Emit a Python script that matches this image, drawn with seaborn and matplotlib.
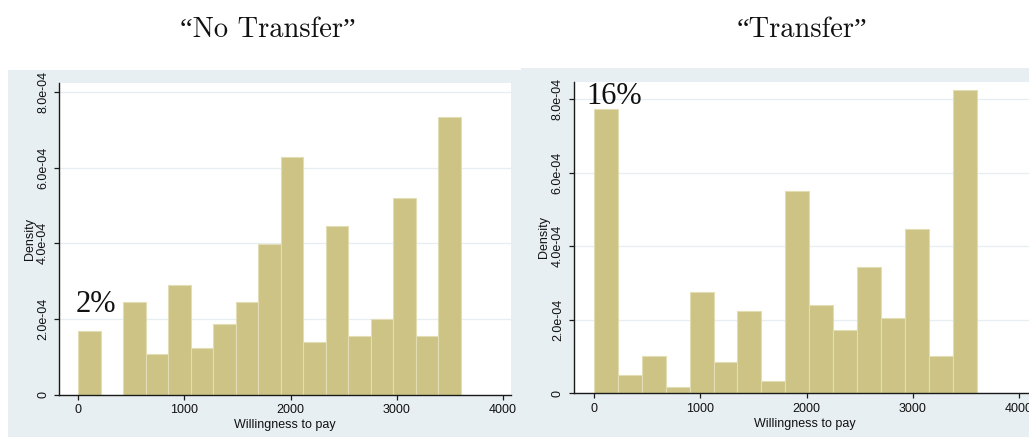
import numpy as np
import pandas as pd
import seaborn as sns
import matplotlib
matplotlib.use("Agg")
import matplotlib.pyplot as plt
from matplotlib.patches import Rectangle

# Histogram densities of willingness to pay (bins span 0..3600)
no_transfer_density = [1.683e-4, 0.0, 2.458e-4, 1.084e-4, 2.907e-4, 1.233e-4,
                       1.859e-4, 2.458e-4, 3.982e-4, 6.273e-4, 1.383e-4, 4.449e-4,
                       1.542e-4, 2.000e-4, 5.207e-4, 1.542e-4, 7.339e-4]
transfer_density = [7.737e-4, 0.498e-4, 1.024e-4, 0.163e-4, 2.745e-4, 0.843e-4,
                    2.229e-4, 0.326e-4, 5.490e-4, 2.392e-4, 1.712e-4, 3.425e-4,
                    2.057e-4, 4.457e-4, 1.024e-4, 8.254e-4]
wtp_min, wtp_max = 0, 3600

panel_titles = ["\u201cNo Transfer\u201d", "\u201cTransfer\u201d"]
zero_share_labels = ["2%", "16%"]

x_ticks = [0, 1000, 2000, 3000, 4000]
x_tick_labels = ["0", "1000", "2000", "3000", "4000"]
y_ticks = [0, 2e-4, 4e-4, 6e-4, 8e-4]
y_tick_labels = ["0", "2.0e-04", "4.0e-04", "6.0e-04", "8.0e-04"]

sns.set_theme(style="white")
plt.rcParams["font.family"] = ["Liberation Sans", "DejaVu Sans"]

W, H = 1029, 437
fig = plt.figure(figsize=(W / 100, H / 100), dpi=100)

BG = "#e8eff2"
BAR = "#ccc385"
EDGE = "#e2ddb4"
GRID = "#e6eef1"


def px_rect(x0, y0, x1, y1):
    """Figure-fraction rectangle from pixel box (origin top-left)."""
    return [x0 / W, 1 - y1 / H, (x1 - x0) / W, (y1 - y0) / H]


# graph-region backgrounds, kept beneath the axes
for (x0, y0, x1, y1) in [(8, 70, 521, 436.5), (521, 68, 1040, 436.5)]:
    l, b, w, h = px_rect(x0, y0, x1, y1)
    fig.patches.append(Rectangle((l, b), w, h, transform=fig.transFigure,
                                 facecolor=BG, edgecolor="none", zorder=-5))

panels = [
    dict(dens=no_transfer_density, box=(59.3, 83, 510.7, 394.5),
         xlim=(-176, 4072), ylim=(0, 8.24e-4), label_xy=(-19, 2.18e-4),
         title_x=268.3),
    dict(dens=transfer_density, box=(574, 81.5, 1035, 393.3),
         xlim=(-188, 4149), ylim=(0, 8.48e-4), label_xy=(-75, 7.88e-4),
         title_x=801.7),
]

for i, p in enumerate(panels):
    ax = fig.add_axes(px_rect(*p["box"]))
    ax.set_zorder(1)
    ax.set_facecolor("white")
    dens = np.asarray(p["dens"], dtype=float)
    nbins = len(dens)
    width = (wtp_max - wtp_min) / nbins
    mids = wtp_min + width * (np.arange(nbins) + 0.5)
    df = pd.DataFrame({"wtp": mids, "density": dens})
    sns.histplot(data=df, x="wtp", weights="density", bins=nbins,
                 binrange=(wtp_min, wtp_max), stat="count",
                 color=BAR, alpha=1.0, edgecolor=EDGE, linewidth=0.8, ax=ax)
    ax.set_xlim(*p["xlim"])
    ax.set_ylim(*p["ylim"])
    ax.set_xticks(x_ticks)
    ax.set_xticklabels(x_tick_labels)
    ax.set_yticks(y_ticks)
    ax.set_yticklabels(y_tick_labels, rotation=90, va="center")
    ax.yaxis.grid(True, color=GRID, linewidth=0.9)
    ax.xaxis.grid(False)
    ax.set_axisbelow(True)
    for s in ["top", "right"]:
        ax.spines[s].set_visible(False)
    for s in ["left", "bottom"]:
        ax.spines[s].set_color("#1a1a1a")
        ax.spines[s].set_linewidth(1.0)
    ax.tick_params(axis="both", which="major", length=3.8, width=0.9,
                   color="#1a1a1a", labelsize=9, labelcolor="#111111",
                   bottom=True, left=True, direction="out")
    ax.tick_params(axis="x", pad=3)
    ax.tick_params(axis="y", pad=3.5)
    ax.set_xlabel("Willingness to pay", fontsize=9, color="#111111", labelpad=2)
    ax.set_ylabel("Density", fontsize=9, color="#111111", labelpad=1)

    lx, ly = p["label_xy"]
    ax.text(lx, ly, zero_share_labels[i], family=["Liberation Serif", "DejaVu Serif"],
            fontsize=22, ha="left", va="baseline", color="#111111", zorder=5)

    fig.text(p["title_x"] / W, 1 - 36.7 / H, panel_titles[i],
             family=["cmr10", "Liberation Serif", "DejaVu Serif"], fontsize=20.5,
             ha="center", va="baseline", color="#111111")

fig.savefig("out.png", dpi=100, facecolor="white")
